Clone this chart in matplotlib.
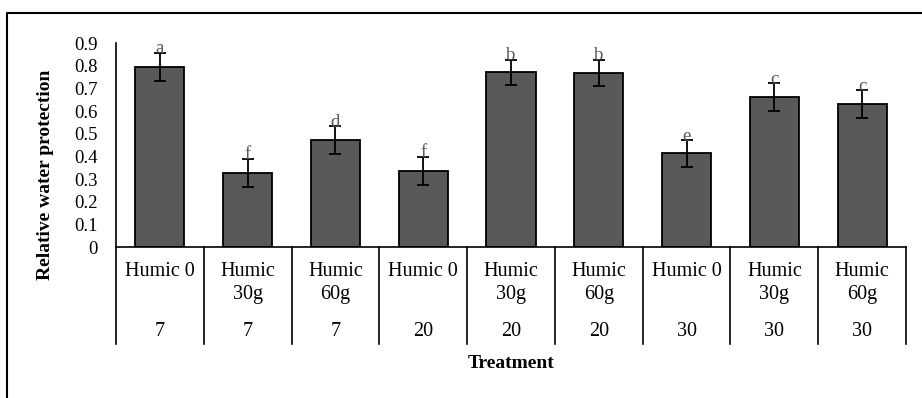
import matplotlib
matplotlib.use("Agg")
import matplotlib.pyplot as plt
import matplotlib.transforms as mtransforms
from matplotlib.lines import Line2D

plt.rcParams['font.family'] = ['Liberation Serif', 'DejaVu Serif']

# data
humic = ['Humic 0', 'Humic\n30g', 'Humic\n60g',
         'Humic 0', 'Humic\n30g', 'Humic\n60g',
         'Humic 0', 'Humic\n30g', 'Humic\n60g']
days = ['7', '7', '7', '20', '20', '20', '30', '30', '30']
means = [0.795, 0.327, 0.471, 0.335, 0.770, 0.768, 0.413, 0.662, 0.630]
errors = [0.063, 0.063, 0.062, 0.063, 0.057, 0.059, 0.058, 0.062, 0.062]
letters = ['a', 'f', 'd', 'f', 'b', 'b', 'e', 'c', 'c']
yticks = [0, 0.1, 0.2, 0.3, 0.4, 0.5, 0.6, 0.7, 0.8, 0.9]

W, H = 922, 398
fig = plt.figure(figsize=(W / 100, H / 100), dpi=100)


def fy(py):
    # pixel row -> figure fraction
    return 1 - py / H


ax = fig.add_axes([116 / W, fy(247), (906 - 116) / W, (247 - 43) / H])

x = list(range(len(means)))
ax.bar(x, means, width=0.56, color='#595959', edgecolor='black', linewidth=1.3,
       yerr=errors, error_kw=dict(ecolor='black', elinewidth=1.3, capsize=4.5,
                                  capthick=1.3))

for i, (m, e, l) in enumerate(zip(means, errors, letters)):
    ax.text(i, m + e - 0.003, l, ha='center', va='baseline', fontsize=13.5,
            color='#595959')

ax.set_xlim(-0.5, len(means) - 0.5)
ax.set_ylim(0, 0.9)
ax.set_yticks(yticks)
ax.set_yticklabels(['0' if v == 0 else '%.1f' % v for v in yticks])
ax.tick_params(axis='y', length=0, pad=13, labelsize=13.5)
ax.tick_params(axis='x', length=0, labelbottom=False)
for s in ['top', 'right']:
    ax.spines[s].set_visible(False)
ax.spines['left'].set_linewidth(1.2)
ax.spines['bottom'].set_linewidth(1.2)

# multi-level category axis
trans = mtransforms.blended_transform_factory(ax.transData, fig.transFigure)
for i in range(len(means) + 1):
    ax.add_line(Line2D([i - 0.5, i - 0.5], [fy(247), fy(344)], transform=trans,
                       color='black', lw=1.2, clip_on=False))
for i, (h, d) in enumerate(zip(humic, days)):
    for k, line in enumerate(h.split('\n')):
        ax.text(i, fy(272 + 23 * k), line, transform=trans, ha='center',
                va='center', fontsize=14.5)
    ax.text(i, fy(331), d, transform=trans, ha='center', va='center',
            fontsize=14.5)

ax.text(4, fy(363), 'Treatment', transform=trans, ha='center', va='center',
        fontsize=14, fontweight='bold')
fig.text(45 / W, fy(175), 'Relative water protection', rotation=90,
         ha='center', va='center', fontsize=14, fontweight='bold')

# outer frame (cropped on the right and bottom)
fig.add_artist(Line2D([7 / W, 7 / W, 1], [0, fy(13), fy(13)],
                      transform=fig.transFigure, color='black', lw=1.5))

fig.savefig('out.png', dpi=100)
